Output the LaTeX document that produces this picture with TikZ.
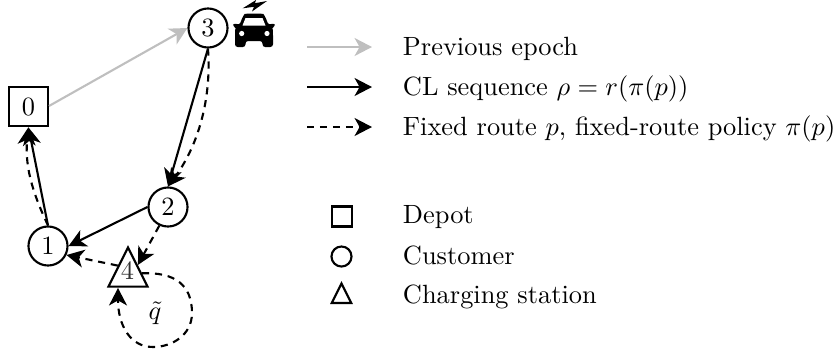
\documentclass[tikz,border=0pt]{standalone}
\usetikzlibrary{arrows.meta,shapes.geometric}
\tikzset{
  x=0.379pt,y=-0.379pt,
  every path/.style={line width=0.8pt},
  tip/.style={-{Stealth[length=6.6pt,width=6.8pt,inset=1.9pt]}},
  cust/.style={circle,draw,fill=white,minimum size=14.8pt,inner sep=0pt},
  depot/.style={rectangle,draw,fill=white,minimum size=14.9pt,inner sep=0pt},
  stat/.style={isosceles triangle,isosceles triangle apex angle=53,shape border rotate=90,draw,inner sep=0pt,minimum height=14.8pt,minimum width=14.8pt},
  legtext/.style={anchor=base west,inner sep=0pt,outer sep=0pt},
  prev/.style={tip,black!25},
  cl/.style={tip},
  fixedr/.style={tip,dashed,dash pattern=on 2.7pt off 2.2pt},
}
\begin{document}
\begin{tikzpicture}
\useasboundingbox (0,0) rectangle (837,356);
% nodes
\node[depot] (n0) at (28.4,106.6) {0};
\node[cust] (n1) at (48,246) {1};
\node[cust] (n2) at (168,207) {2};
\node[cust] (n3) at (208,28) {3};
\node[stat] (n4) at (128,274.5) {};
\node[text=black!80] (l4) at (127.5,271) {4};
\node (q) at (155,313) {$\tilde q$};
% car
\fill[rounded corners=1pt] (239.5,25) -- (243,16) .. controls (245,13.5) and (263,13.5) .. (265,16) -- (268.5,25)
  -- (274,23) -- (275.5,26.5) -- (271,28) .. controls (273,30) and (273,32) .. (273,38)
  -- (273,47) -- (262.5,47) -- (262.5,41) -- (245.5,41) -- (245.5,47) -- (235,47) -- (235,38)
  .. controls (235,32) and (235,30) .. (237,28) -- (232.5,26.5) -- (234,23) -- cycle;
\fill[white] (242.5,25.5) -- (245.5,18) -- (262.5,18) -- (265.5,25.5) -- cycle;
\fill[white] (241.7,33.5) circle (2.6) (267,33.5) circle (2.6);
\fill (242.7,8.3) -- (256,0) -- (255,3.2) -- (267,1) -- (252,11.5) -- (254,6.8) -- cycle;
% connectors
\coordinate (a0) at (49,106);
\draw[prev] (a0) -- (n3.west);
\draw[cl] (n3.south) -- (n2.north);
\draw[fixedr] (n3.south) .. controls (212,105) and (195,150) .. (n2.north);
\draw[cl] (n2.west) -- (n1.east);
\draw[fixedr] (n2.-115) -- (n4.44);
\draw[fixedr] (n4.139) -- (n1.-26);
\draw[cl] (n1.north) -- (n0.south);
\draw[fixedr] (n1.north) .. controls (36,200) and (24,170) .. (n0.south);
\draw[fixedr] (n4.5) .. controls (175,272) and (192,285) .. (192,313)
  .. controls (192,335) and (172,347) .. (153,347) .. controls (130,347) and (118,325) .. (118,288);
% legend
\coordinate (s1) at (307,47); \coordinate (e1) at (372,47);
\coordinate (s2) at (307,87); \coordinate (e2) at (372,87);
\coordinate (s3) at (307,127); \coordinate (e3) at (372,127);
\draw[prev] (s1) -- (e1);
\draw[cl] (s2) -- (e2);
\draw[fixedr] (s3) -- (e3);
\node[legtext] (t1) at (403,55) {Previous epoch};
\node[legtext] (t2) at (403,95) {CL sequence $\rho = r(\pi(p))$};
\node[legtext] (t3) at (403,135) {Fixed route $p$, fixed-route policy $\pi(p)$};
\node[draw,minimum size=7.6pt,inner sep=0pt] (k1) at (341.7,216.5) {};
\node[draw,circle,minimum size=7.6pt,inner sep=0pt] (k2) at (341.5,256.5) {};
\node[draw,isosceles triangle,isosceles triangle apex angle=53,shape border rotate=90,inner sep=0pt,minimum height=7.4pt,minimum width=7.4pt] (k3) at (341.5,297) {};
\node[legtext] (t4) at (403,223) {Depot};
\node[legtext] (t5) at (403,264) {Customer};
\node[legtext] (t6) at (403,303) {Charging station};
\end{tikzpicture}
\end{document}
